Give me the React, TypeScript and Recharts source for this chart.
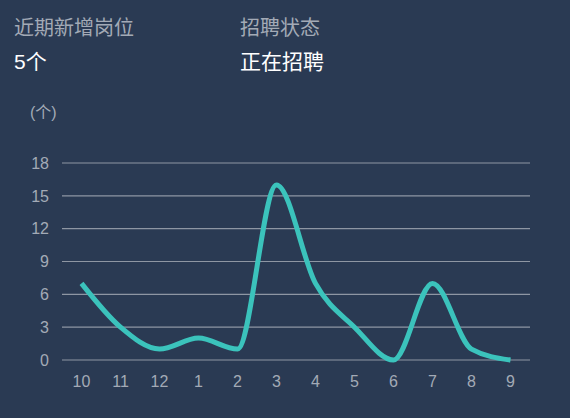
import React from 'react';
import { LineChart, Line, XAxis, YAxis, CartesianGrid } from 'recharts';

const months = ['10', '11', '12', '1', '2', '3', '4', '5', '6', '7', '8', '9'];
const newPositions = [7, 3, 1, 2, 1, 16, 7, 3, 0, 7, 1, 0];
const yTicks = [0, 3, 6, 9, 12, 15, 18];

const data = months.map((m, i) => ({ month: m, count: newPositions[i] }));

const BG = '#2a3a53';
const LABEL = '#a3aab6';
const FONT = "'Liberation Sans', Arial, 'Noto Sans CJK SC', sans-serif";

export default function App() {
    return (
        <div style={{ position: 'absolute', left: 0, top: 0, width: 570, height: 418, background: BG, fontFamily: FONT, overflow: 'hidden' }}>
            <div style={{ position: 'absolute', left: 14, top: 18, fontSize: 20, lineHeight: '20px', color: LABEL }}>近期新增岗位</div>
            <div style={{ position: 'absolute', left: 14, top: 51, fontSize: 21, lineHeight: '22px', color: '#ffffff' }}>5个</div>
            <div style={{ position: 'absolute', left: 240, top: 18, fontSize: 20, lineHeight: '20px', color: LABEL }}>招聘状态</div>
            <div style={{ position: 'absolute', left: 240, top: 51, fontSize: 21, lineHeight: '22px', color: '#ffffff' }}>正在招聘</div>
            <div style={{ position: 'absolute', left: 30, top: 104, fontSize: 16, lineHeight: '18px', color: LABEL }}>(个)</div>
            <div style={{ position: 'absolute', left: 0, top: 0 }}>
                <LineChart width={570} height={418} data={data} margin={{ top: 163, right: 40, bottom: 28, left: 12 }}>
                    <CartesianGrid vertical={false} stroke="#8e96a3" strokeWidth={1.2} />
                    <XAxis
                        dataKey="month"
                        axisLine={false}
                        tickLine={false}
                        tickMargin={10}
                        padding={{ left: 19.5, right: 19.5 }}
                        tick={{ fill: LABEL, fontSize: 16, fontFamily: FONT }}
                        interval={0}
                    />
                    <YAxis
                        width={50}
                        domain={[0, 18]}
                        ticks={yTicks}
                        axisLine={false}
                        tickLine={false}
                        tickMargin={7}
                        tick={{ fill: LABEL, fontSize: 16, fontFamily: FONT }}
                    />
                    <Line
                        type="monotone"
                        dataKey="count"
                        stroke="#3bc3bc"
                        strokeWidth={5}
                        dot={false}
                        activeDot={false}
                        isAnimationActive={false}
                    />
                </LineChart>
            </div>
        </div>
    );
}
